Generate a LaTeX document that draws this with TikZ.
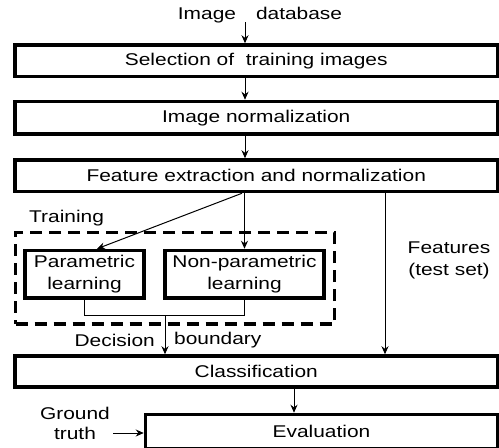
\documentclass[tikz,border=0pt]{standalone}
\usepackage{fontspec}
\setmainfont{Liberation Sans}[FakeStretch=1.23]
\usetikzlibrary{arrows.meta,calc}
\begin{document}
\begin{tikzpicture}[x=1pt,y=-1pt,
  every node/.style={font=\fontsize{17}{22}\selectfont},
  box/.style={draw,line width=3.5pt,inner sep=0pt,align=center},
  trainbox/.style={draw,line width=3.5pt,dash pattern=on 12pt off 7pt,inner sep=0pt},
  conn/.style={line width=1pt},
  arr/.style={conn,-{Stealth[length=8pt,width=7pt]}},
  lbl/.style={inner sep=0pt,align=center}]
\useasboundingbox (0,0) rectangle (499,448);
% boxes
\node[box,minimum width=482.5pt,minimum height=31.5pt] (sel) at (256.25,60.75) {Selection of\ \ training images};
\node[box,minimum width=482.5pt,minimum height=32.5pt] (norm) at (256.25,117.75) {Image normalization};
\node[box,minimum width=482.5pt,minimum height=31.5pt] (fext) at (256.25,175.75) {Feature extraction and normalization};
\node[trainbox,minimum width=319pt,minimum height=91.5pt] (train) at (175,278.25) {};
\node[box,minimum width=119pt,minimum height=47.5pt] (param) at (84.5,274.25) {Parametric\\learning};
\node[box,minimum width=159pt,minimum height=47.5pt] (nonp) at (244.5,274.25) {Non-parametric\\learning};
\node[box,minimum width=482.5pt,minimum height=31pt] (cls) at (256.25,371.5) {Classification};
\node[box,minimum width=352pt,minimum height=34.5pt] (eval) at (321.5,431.75) {Evaluation};
% labels
\node[lbl] (imgdb) at (260,15) {Image\hspace{20pt}database};
\node[lbl,anchor=west] (trainlbl) at (29,218) {Training};
\node[lbl] (featlbl) at (449,260) {Features\\(test set)};
\node[lbl,anchor=east] (declbl) at (155,340) {Decision};
\node[lbl,anchor=west] (bndlbl) at (174,340) {boundary};
\node[lbl] (gt) at (75,423) {Ground\\[-2pt]truth};
% coordinates
\coordinate (dbtop) at (245,22);
\coordinate (cx) at (245,0);
\coordinate (fx) at (385,0);
\coordinate (mg) at (165,315);
\coordinate (ex) at (294,0);
\coordinate (gta) at (113,433);
% connectors
\draw[arr] (dbtop) -- (dbtop |- sel.north);
\draw[arr] (sel.south -| cx) -- (norm.north -| cx);
\draw[arr] (norm.south -| cx) -- (fext.north -| cx);
\draw[arr] ($(fext.south)+(-14.25,0)$) -- ([xshift=12.5pt]param.north);
\draw[arr] (fext.south -| nonp.north) -- (nonp.north);
\draw[arr] (fext.south -| fx) -- (cls.north -| fx);
\draw[conn] (param.south) -- (param.south |- mg) -| (nonp.south);
\draw[arr] (mg) -- (mg |- cls.north);
\draw[arr] (cls.south -| ex) -- (eval.north -| ex);
\draw[arr] (gta) -- (gta -| eval.west);
\end{tikzpicture}
\end{document}
